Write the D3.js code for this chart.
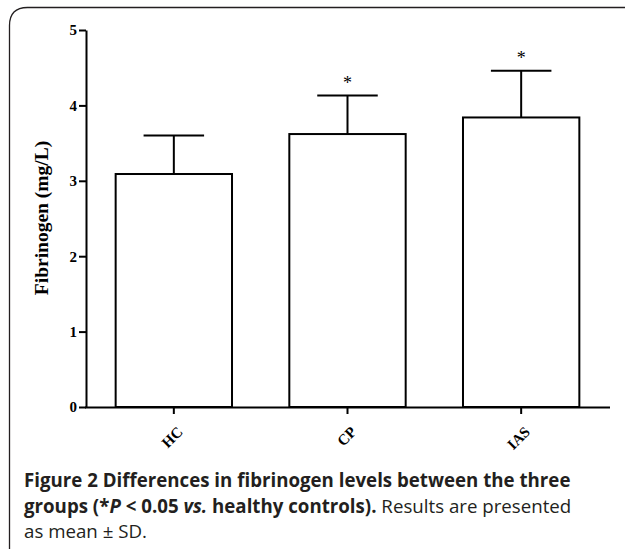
<!DOCTYPE html>
<html>
<head>
<meta charset="utf-8">
<script src="https://cdn.jsdelivr.net/npm/d3@7"></script>
<style>
  body { margin: 0; background: #fff; }
  .tick text { font-family: "Liberation Serif", serif; font-weight: bold; font-size: 15px; fill: #000; }
  .caption { font-family: "Open Sans", sans-serif; font-size: 18.7px; fill: #231f20; }
</style>
</head>
<body>
<svg id="chart" width="625" height="549"></svg>
<script>
"use strict";

// values
let groups = ['HC', 'CP', 'IAS'];
let means = [3.09, 3.62, 3.84];
let sds = [0.51, 0.51, 0.62];
let marks = ['', '*', '*'];
let yTicks = [0, 1, 2, 3, 4, 5];

(function () {
  let svg = d3.select('#chart');

  // frame with rounded top-left corner
  let r = 18;
  svg.append('path')
    .attr('d', 'M9.5,549 L9.5,' + (7.5 + r) + ' Q9.5,7.5 ' + (9.5 + r) + ',7.5 L625,7.5')
    .attr('fill', 'none')
    .attr('stroke', '#231f20')
    .attr('stroke-width', 1.3);

  let x = d3.scaleBand()
    .domain(groups)
    .range([87, 608])
    .paddingInner(0.33)
    .paddingOuter(0.165);

  let y = d3.scaleLinear()
    .domain([0, 5])
    .range([407, 30]);

  // bars
  svg.selectAll('.bar').data(groups).enter().append('rect')
    .attr('class', 'bar')
    .attr('x', d => x(d))
    .attr('y', (d, i) => y(means[i]))
    .attr('width', x.bandwidth())
    .attr('height', (d, i) => y(0) - y(means[i]))
    .style('fill', '#fff')
    .style('stroke', '#000')
    .style('stroke-width', 2);

  // error bars (upper only)
  let cap = x.bandwidth() * 0.52;
  let err = svg.append('g');
  groups.forEach(function (g, i) {
    let cx = x(g) + x.bandwidth() / 2;
    err.append('line')
      .attr('x1', cx).attr('x2', cx)
      .attr('y1', y(means[i])).attr('y2', y(means[i] + sds[i]))
      .attr('stroke', '#000').attr('stroke-width', 2);
    err.append('line')
      .attr('x1', cx - cap / 2).attr('x2', cx + cap / 2)
      .attr('y1', y(means[i] + sds[i])).attr('y2', y(means[i] + sds[i]))
      .attr('stroke', '#000').attr('stroke-width', 2);
    if (marks[i]) {
      err.append('text')
        .attr('x', cx)
        .attr('y', y(means[i] + sds[i]) - 7)
        .attr('text-anchor', 'middle')
        .style('font-family', '"Liberation Serif", serif')
        .style('font-size', '18px')
        .text(marks[i]);
    }
  });

  // axes
  let yAxis = d3.axisLeft(y).tickValues(yTicks).tickFormat(d3.format('d')).tickSize(7).tickSizeOuter(0).tickPadding(2);
  let gy = svg.append('g')
    .attr('transform', 'translate(86,0)')
    .call(yAxis);
  gy.select('.domain').attr('stroke-width', 2);
  gy.selectAll('.tick line').attr('stroke-width', 2);

  let xAxis = d3.axisBottom(x).tickSize(7).tickSizeOuter(0).tickPadding(4);
  let gx = svg.append('g')
    .attr('transform', 'translate(0,407)')
    .call(xAxis);
  gx.select('.domain').attr('d', 'M85,0.5H610').attr('stroke-width', 2);
  gx.selectAll('.tick line').attr('stroke-width', 2);
  gx.selectAll('.tick text')
    .attr('text-anchor', 'end')
    .attr('dy', null)
    .attr('transform', 'translate(2,18) rotate(-45)');

  svg.append('text')
    .attr('transform', 'translate(48,218) rotate(-90)')
    .attr('text-anchor', 'middle')
    .style('font-family', '"Liberation Serif", serif')
    .style('font-weight', 'bold')
    .style('font-size', '19.5px')
    .text('Fibrinogen (mg/L)');

  // caption
  let c1 = svg.append('text').attr('class', 'caption').attr('x', 24).attr('y', 487);
  c1.append('tspan').style('font-weight', 'bold').text('Figure 2 Differences in fibrinogen levels between the three');

  let c2 = svg.append('text').attr('class', 'caption').attr('x', 24).attr('y', 513);
  c2.append('tspan').style('font-weight', 'bold').text('groups (*');
  c2.append('tspan').style('font-weight', 'bold').style('font-style', 'italic').text('P');
  c2.append('tspan').style('font-weight', 'bold').text(' < 0.05 ');
  c2.append('tspan').style('font-weight', 'bold').style('font-style', 'italic').text('vs.');
  c2.append('tspan').style('font-weight', 'bold').text(' healthy controls).');
  c2.append('tspan').text(' Results are presented');

  svg.append('text').attr('class', 'caption').attr('x', 24).attr('y', 538)
    .text('as mean \u00b1 SD.');
})();
</script>
</body>
</html>
